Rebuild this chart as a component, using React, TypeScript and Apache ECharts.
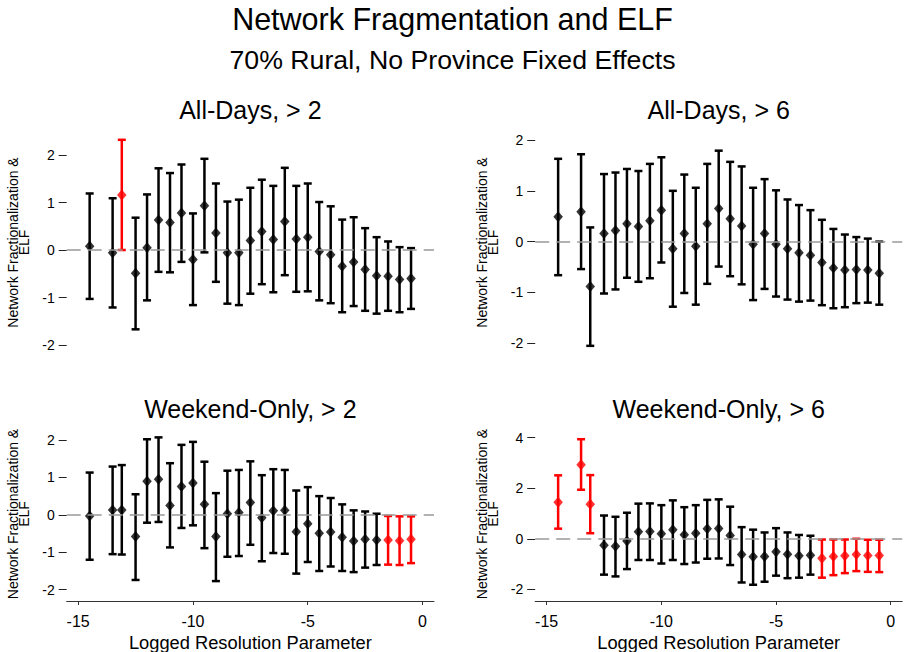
import React, { useEffect, useRef } from 'react';
import * as echarts from 'echarts';

// ---- data ----
const X = [-14.5, -13.5, -13.1, -12.5, -12, -11.5, -11, -10.5, -10, -9.5, -9, -8.5, -8, -7.5, -7, -6.5, -6, -5.5, -5, -4.5, -4, -3.5, -3, -2.5, -2, -1.5, -1, -0.5];
const X_TICKS = [-15, -10, -5, 0];

const TITLE = 'Network Fragmentation and ELF';
const SUBTITLE = '70% Rural, No Province Fixed Effects';
const PANEL_TITLES = ['All-Days, > 2', 'All-Days, > 6', 'Weekend-Only, > 2', 'Weekend-Only, > 6'];
const Y_NAME = 'Network Fractionalization &\nELF';
const X_NAME = 'Logged Resolution Parameter';

// All-Days, > 2
const AD2_MID = [0.08, -0.06, 1.16, -0.49, 0.05, 0.63, 0.58, 0.78, -0.20, 0.93, 0.36, -0.06, -0.06, 0.20, 0.39, 0.22, 0.60, 0.23, 0.27, -0.03, -0.10, -0.34, -0.25, -0.41, -0.54, -0.55, -0.62, -0.60];
const AD2_HI = [1.19, 1.09, 2.32, 0.68, 1.17, 1.72, 1.62, 1.80, 0.77, 1.92, 1.40, 1.02, 1.06, 1.31, 1.48, 1.35, 1.73, 1.35, 1.40, 1.01, 0.92, 0.64, 0.69, 0.46, 0.27, 0.18, 0.06, 0.04];
const AD2_LO = [-1.03, -1.21, 0.0, -1.67, -1.06, -0.46, -0.47, -0.25, -1.16, -0.05, -0.67, -1.13, -1.16, -0.92, -0.72, -0.89, -0.53, -0.88, -0.87, -1.06, -1.12, -1.31, -1.18, -1.28, -1.34, -1.28, -1.31, -1.24];
const AD2_SIG = [2];

// All-Days, > 6
const AD6_MID = [0.49, 0.59, -0.88, 0.16, 0.22, 0.35, 0.30, 0.41, 0.62, -0.14, 0.16, -0.09, 0.35, 0.65, 0.45, 0.31, -0.05, 0.16, -0.05, -0.14, -0.22, -0.27, -0.41, -0.52, -0.56, -0.55, -0.56, -0.62];
const AD6_HI = [1.63, 1.72, 0.28, 1.33, 1.36, 1.43, 1.39, 1.53, 1.66, 1.00, 1.32, 1.06, 1.53, 1.79, 1.57, 1.48, 1.06, 1.23, 1.01, 0.83, 0.72, 0.62, 0.43, 0.25, 0.14, 0.09, 0.06, 0.00];
const AD6_LO = [-0.66, -0.54, -2.05, -1.02, -0.94, -0.71, -0.79, -0.72, -0.41, -1.28, -1.01, -1.24, -0.83, -0.49, -0.68, -0.84, -1.15, -0.93, -1.08, -1.14, -1.18, -1.16, -1.25, -1.31, -1.29, -1.21, -1.20, -1.24];
const AD6_SIG: number[] = [];

// Weekend-Only, > 2
const WE2_MID = [-0.03, 0.13, 0.13, -0.58, 0.90, 0.95, 0.25, 0.76, 0.85, 0.28, -0.58, 0.03, 0.06, 0.33, -0.08, 0.11, 0.12, -0.45, -0.24, -0.49, -0.46, -0.60, -0.70, -0.65, -0.67, -0.67, -0.69, -0.65];
const WE2_HI = [1.13, 1.29, 1.33, 0.55, 2.02, 2.07, 1.38, 1.87, 1.95, 1.42, 0.58, 1.18, 1.20, 1.43, 1.06, 1.22, 1.20, 0.65, 0.74, 0.50, 0.45, 0.28, 0.12, 0.09, 0.03, -0.03, -0.04, -0.04];
const WE2_LO = [-1.20, -1.05, -1.06, -1.74, -0.21, -0.19, -0.87, -0.35, -0.28, -0.89, -1.77, -1.12, -1.10, -0.80, -1.24, -1.02, -1.04, -1.57, -1.26, -1.50, -1.38, -1.50, -1.53, -1.41, -1.34, -1.33, -1.34, -1.29];
const WE2_SIG = [25, 26, 27];

// Weekend-Only, > 6
const WE6_MID = [1.45, 2.93, 1.37, -0.26, -0.30, -0.09, 0.28, 0.29, 0.20, 0.36, 0.16, 0.22, 0.40, 0.41, 0.13, -0.62, -0.71, -0.70, -0.51, -0.61, -0.67, -0.65, -0.77, -0.70, -0.67, -0.62, -0.66, -0.66];
const WE6_HI = [2.51, 3.94, 2.52, 0.92, 0.87, 1.03, 1.39, 1.40, 1.33, 1.52, 1.25, 1.33, 1.54, 1.56, 1.27, 0.46, 0.36, 0.25, 0.42, 0.25, 0.15, 0.12, -0.03, -0.03, -0.03, 0.00, -0.04, -0.04];
const WE6_LO = [0.40, 1.94, 0.22, -1.42, -1.49, -1.20, -0.84, -0.84, -0.98, -0.84, -1.00, -0.94, -0.79, -0.78, -1.04, -1.73, -1.82, -1.70, -1.46, -1.56, -1.54, -1.42, -1.54, -1.44, -1.36, -1.28, -1.31, -1.32];
const WE6_SIG = [0, 1, 2, 22, 23, 24, 25, 26, 27];

const Y_RANGES = [
  { min: -2, max: 2, interval: 1 },
  { min: -2, max: 2, interval: 1 },
  { min: -2, max: 2, interval: 1 },
  { min: -2, max: 4, interval: 2 },
];

const PANELS = [
  { mid: AD2_MID, hi: AD2_HI, lo: AD2_LO, sig: AD2_SIG },
  { mid: AD6_MID, hi: AD6_HI, lo: AD6_LO, sig: AD6_SIG },
  { mid: WE2_MID, hi: WE2_HI, lo: WE2_LO, sig: WE2_SIG },
  { mid: WE6_MID, hi: WE6_HI, lo: WE6_LO, sig: WE6_SIG },
];

// ---- layout / style ----
const FONT = '"Liberation Sans", Arial, Helvetica, sans-serif';
const RED = '#ff0000';
const BLACK = '#000000';
const GRIDS = [
  { left: 66.7, width: 367.3, top: 155, height: 190 },
  { left: 535.2, width: 367, top: 140, height: 203.3 },
  { left: 66.7, width: 367.3, top: 440, height: 149.7 },
  { left: 535.2, width: 367, top: 437.7, height: 151.6 },
];
const TITLE_Y = [110, 110, 409, 409];
const YNAME_POS = [
  { x: 18, y: 242.5 },
  { x: 487, y: 242.5 },
  { x: 18, y: 514 },
  { x: 487, y: 514 },
];

function buildOption() {
  const grid = GRIDS.map((g) => ({ left: g.left, top: g.top, width: g.width, height: g.height, containLabel: false }));
  const xAxis = GRIDS.map((g, i) => ({
    type: 'value',
    gridIndex: i,
    min: -15.5,
    max: 0.5,
    show: i >= 2,
    offset: i === 2 ? 11.3 : 11.7,
    position: 'bottom',
    splitLine: { show: false },
    axisLine: { show: true, onZero: false, lineStyle: { color: '#333', width: 1 } },
    axisTick: { show: true, length: 4, customValues: X_TICKS, lineStyle: { color: '#333', width: 1 } },
    axisLabel: { show: true, customValues: X_TICKS, fontFamily: FONT, fontSize: 16, color: BLACK, margin: 12 },
    name: X_NAME,
    nameLocation: 'middle',
    nameGap: 32,
    nameTextStyle: { fontFamily: FONT, fontSize: 18.3, color: BLACK },
  }));
  const yAxis = Y_RANGES.map((r, i) => ({
    type: 'value',
    gridIndex: i,
    position: 'left',
    min: r.min,
    max: r.max,
    interval: r.interval,
    splitLine: { show: false },
    axisLine: { show: false, onZero: false },
    axisTick: { show: true, length: 8, lineStyle: { color: '#222', width: 1 } },
    axisLabel: { fontFamily: FONT, fontSize: 14, color: BLACK, margin: 12 },
  }));

  const series: any[] = [];
  PANELS.forEach((p, i) => {
    const barData = X.map((x, k) => [x, p.lo[k], p.hi[k], p.sig.includes(k) ? 1 : 0]);
    const ptData = X.map((x, k) => ({
      value: [x, p.mid[k]],
      itemStyle: { color: p.sig.includes(k) ? RED : BLACK },
    }));
    series.push({
      type: 'custom',
      xAxisIndex: i,
      yAxisIndex: i,
      z: 2,
      clip: false,
      silent: true,
      data: barData,
      encode: { x: 0, y: [1, 2] },
      renderItem: (params: any, api: any) => {
        const x = api.value(0);
        const lo = api.value(1);
        const hi = api.value(2);
        const color = api.value(3) ? RED : BLACK;
        const a = api.coord([x, lo]);
        const b = api.coord([x, hi]);
        const cap = 4;
        const st = { stroke: color, lineWidth: 2.5 };
        return {
          type: 'group',
          children: [
            { type: 'line', shape: { x1: a[0], y1: a[1], x2: b[0], y2: b[1] }, style: st },
            { type: 'line', shape: { x1: a[0] - cap, y1: a[1], x2: a[0] + cap, y2: a[1] }, style: st },
            { type: 'line', shape: { x1: b[0] - cap, y1: b[1], x2: b[0] + cap, y2: b[1] }, style: st },
          ],
        };
      },
      markLine: {
        silent: true,
        symbol: 'none',
        label: { show: false },
        lineStyle: { color: '#999', type: [14, 7], width: 1.5 },
        data: [{ yAxis: 0 }],
      },
    });
    series.push({
      type: 'scatter',
      xAxisIndex: i,
      yAxisIndex: i,
      z: 3,
      clip: false,
      silent: true,
      symbol: 'diamond',
      symbolSize: [9.5, 11],
      data: ptData,
    });
  });

  const graphic: any[] = [
    {
      type: 'text', x: 452.5, y: 19,
      style: { text: TITLE, fontFamily: FONT, fontSize: 30.5, fill: BLACK, textAlign: 'center', textVerticalAlign: 'middle' },
    },
    {
      type: 'text', x: 452.5, y: 60,
      style: { text: SUBTITLE, fontFamily: FONT, fontSize: 26.7, fill: BLACK, textAlign: 'center', textVerticalAlign: 'middle' },
    },
  ];
  GRIDS.forEach((g, i) => {
    graphic.push({
      type: 'text', x: g.left + g.width / 2, y: TITLE_Y[i],
      style: { text: PANEL_TITLES[i], fontFamily: FONT, fontSize: 25, fill: BLACK, textAlign: 'center', textVerticalAlign: 'middle' },
    });
    graphic.push({
      type: 'text', x: YNAME_POS[i].x, y: YNAME_POS[i].y, rotation: Math.PI / 2,
      style: { text: Y_NAME, fontFamily: FONT, fontSize: 14, lineHeight: 11, fill: BLACK, textAlign: 'center', textVerticalAlign: 'middle' },
    });
  });

  return {
    animation: false,
    backgroundColor: '#ffffff',
    textStyle: { fontFamily: FONT },
    grid,
    xAxis,
    yAxis,
    series,
    graphic,
  };
}

export default function App() {
  const ref = useRef<HTMLDivElement>(null);
  useEffect(() => {
    if (!ref.current) return;
    const chart = echarts.init(ref.current, undefined, { renderer: 'svg' });
    chart.setOption(buildOption() as any);
    return () => chart.dispose();
  }, []);
  return <div ref={ref} style={{ position: 'absolute', left: 0, top: 0, width: 905, height: 652 }} />;
}
